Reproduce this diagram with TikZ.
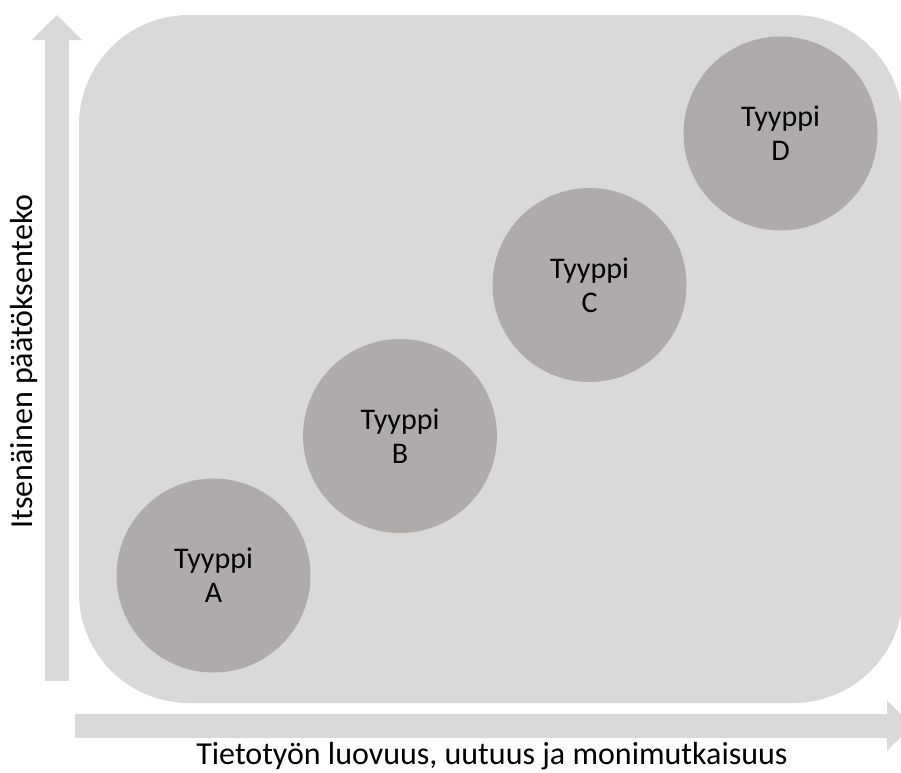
\documentclass[tikz,border=0pt]{standalone}
\usepackage{fontspec}
\setmainfont{Carlito}
\usepackage{xcolor}
\usetikzlibrary{arrows.meta,positioning}
\definecolor{panelgray}{HTML}{D9D9D9}
\definecolor{typegray}{HTML}{AFABAB}

\begin{document}
\begin{tikzpicture}[x=1pt,y=-1pt,
  typecircle/.style={circle, fill=typegray, minimum size=194pt, inner sep=0pt,
    align=center, font=\fontsize{30}{34}\selectfont},
  axisarrow/.style={draw=panelgray, line width=24pt,
    -{Triangle[length=25pt 0 0,width=49pt 0 0]}},
  axislabel/.style={font=\fontsize{32}{36}\selectfont, inner sep=0pt}]
  \useasboundingbox (0,0) rectangle (901,772);
  \clip (0,0) rectangle (901,772);
  % Background panel
  \fill[panelgray, rounded corners=110pt] (79,15) rectangle (903,703);
  % Axes
  \coordinate (yfrom) at (57,681);
  \coordinate (yto)   at (57,15);
  \coordinate (xfrom) at (75,725.5);
  \coordinate (xto)   at (912,725.5);
  \draw[axisarrow] (yfrom) -- (yto);
  \draw[axisarrow] (xfrom) -- (xto);
  % Types
  \node[typecircle] (typeA) at (213.5,575.5) {Tyyppi\\A};
  \node[typecircle] (typeB) at (400,436)     {Tyyppi\\B};
  \node[typecircle] (typeC) at (589.5,285)   {Tyyppi\\C};
  \node[typecircle] (typeD) at (780.5,133.5) {Tyyppi\\D};
  % Axis labels
  \node[axislabel, anchor=base] (xlabel) at (492,764)
    {Tietotyön luovuus, uutuus ja monimutkaisuus};
  \node[axislabel, anchor=base, rotate=90] (ylabel) at (32,361.5)
    {Itsenäinen päätöksenteko};
\end{tikzpicture}
\end{document}
